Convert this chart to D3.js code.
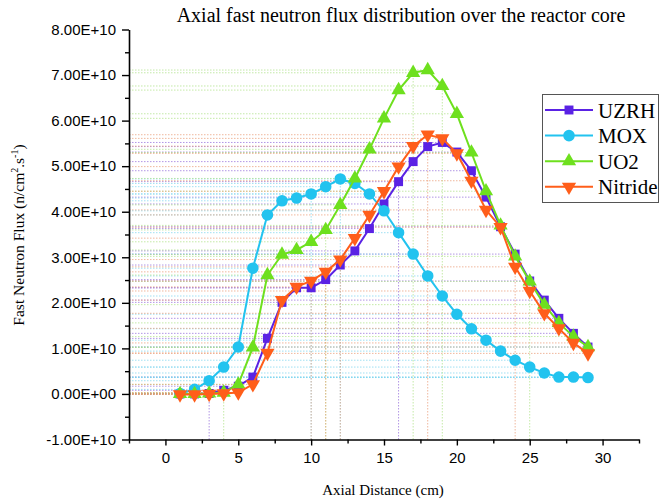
<!DOCTYPE html>
<html>
<head>
<meta charset="utf-8">
<script src="https://cdn.jsdelivr.net/npm/d3@7"></script>
<style>
  html, body { margin: 0; padding: 0; background: #fff; }
  svg { display: block; }
</style>
</head>
<body>
<svg id="chart" width="661" height="501"></svg>
<script>
// ---- data (flux in units of 1e10 n/cm^2.s^-1) ----
const axialPositions = [1,2,3,4,5,6,7,8,9,10,11,12,13,14,15,16,17,18,19,20,21,22,23,24,25,26,27,28,29];
const uzrhValues    = [0.00,0.00,0.01,0.08,0.17,0.37,1.22,2.01,2.33,2.33,2.51,2.83,3.14,3.63,4.17,4.66,5.10,5.43,5.52,5.31,4.90,4.32,3.67,3.07,2.48,2.06,1.66,1.33,1.03];
const moxValues     = [0.01,0.10,0.29,0.59,1.03,2.76,3.93,4.24,4.30,4.39,4.55,4.72,4.62,4.39,4.02,3.54,3.07,2.59,2.15,1.75,1.43,1.18,0.94,0.74,0.59,0.46,0.37,0.37,0.36];
const uo2Values     = [0.00,0.00,0.01,0.03,0.21,1.02,2.61,3.06,3.16,3.34,3.60,4.15,4.73,5.37,6.05,6.67,7.05,7.11,6.76,6.15,5.30,4.45,3.70,3.02,2.47,1.96,1.56,1.26,1.03];
const nitrideValues = [-0.01,-0.01,0.00,0.01,0.03,0.21,0.90,2.06,2.35,2.48,2.68,2.95,3.42,3.93,4.45,4.99,5.44,5.69,5.61,5.28,4.68,4.04,3.66,2.79,2.26,1.77,1.44,1.12,0.89];

const seriesNames = ["UZRH", "MOX", "UO2", "Nitride"];
// axial positions at which a vertical drop line is shown, per series
const uzrhVerticalDrops    = [3, 16];
const moxVerticalDrops     = [10, 12];
const uo2VerticalDrops     = [4, 11, 17, 19, 25];
const nitrideVerticalDrops = [10, 11, 12, 18, 24];

const xTickValues = [0, 5, 10, 15, 20, 25, 30];
const xTickLabels = ["0", "5", "10", "15", "20", "25", "30"];
const yTickValues = [-1, 0, 1, 2, 3, 4, 5, 6, 7, 8];
const yTickLabels = ["-1.00E+10","0.00E+00","1.00E+10","2.00E+10","3.00E+10","4.00E+10","5.00E+10","6.00E+10","7.00E+10","8.00E+10"];

const titleText = "Axial fast neutron flux distribution over the reactor core";
const xLabelText = "Axial Distance (cm)";

// ---- styling ----
const SERIF = "'Liberation Serif', 'Times New Roman', serif";
const SANS = "'Liberation Sans', Arial, sans-serif";
const colors = { UZRH: "#5a22e4", MOX: "#22c3ef", UO2: "#6ee01e", Nitride: "#ff5e1a" };
const dropColors = { UZRH: "#8a5fd8", MOX: "#6fd2ee", UO2: "#a6e07a", Nitride: "#e9936a" };
const symbols = { UZRH: "square", MOX: "circle", UO2: "up", Nitride: "down" };

const svg = d3.select("#chart");
const x = d3.scaleLinear().domain([-2.5, 32.5]).range([129, 639]);
const y = d3.scaleLinear().domain([-1, 8]).range([439.5, 29.5]);

const seriesData = [
  { name: "UZRH", values: uzrhValues, vdrops: uzrhVerticalDrops },
  { name: "MOX", values: moxValues, vdrops: moxVerticalDrops },
  { name: "UO2", values: uo2Values, vdrops: uo2VerticalDrops },
  { name: "Nitride", values: nitrideValues, vdrops: nitrideVerticalDrops }
].map(s => ({ ...s, points: axialPositions.map((p, i) => ({ x: p, y: s.values[i] })) }));

// ---- drop lines ----
const dropG = svg.append("g").attr("class", "droplines");
seriesData.forEach(s => {
  dropG.selectAll(null).data(s.points).enter().append("line")
    .attr("x1", x.range()[0]).attr("x2", d => x(d.x))
    .attr("y1", d => y(d.y)).attr("y2", d => y(d.y))
    .attr("stroke", dropColors[s.name]).attr("stroke-width", 1)
    .attr("stroke-dasharray", "1.5,1.5").attr("opacity", 0.65);
  dropG.selectAll(null).data(s.points.filter(d => s.vdrops.includes(d.x))).enter().append("line")
    .attr("x1", d => x(d.x)).attr("x2", d => x(d.x))
    .attr("y1", y.range()[0]).attr("y2", d => y(d.y))
    .attr("stroke", dropColors[s.name]).attr("stroke-width", 1)
    .attr("stroke-dasharray", "1.5,1.5").attr("opacity", 0.65);
});

// ---- axes ----
const xAxis = d3.axisBottom(x).tickValues(xTickValues).tickFormat((d, i) => xTickLabels[i]).tickSize(6).tickSizeOuter(0);
const xMinor = d3.axisBottom(x).tickValues(d3.range(-2.5, 33, 5)).tickFormat("").tickSize(4).tickSizeOuter(0);
const yAxis = d3.axisLeft(y).tickValues(yTickValues).tickFormat((d, i) => yTickLabels[i]).tickSize(7).tickSizeOuter(0);
const yMinor = d3.axisLeft(y).tickValues(d3.range(-0.5, 8, 1)).tickFormat("").tickSize(4).tickSizeOuter(0);

const gx = svg.append("g").attr("transform", `translate(0,${y.range()[0]})`).call(xAxis);
svg.append("g").attr("transform", `translate(0,${y.range()[0]})`).call(xMinor)
  .call(g => g.select(".domain").remove());
const gy = svg.append("g").attr("transform", `translate(${x.range()[0]},0)`).call(yAxis);
svg.append("g").attr("transform", `translate(${x.range()[0]},0)`).call(yMinor)
  .call(g => g.select(".domain").remove());

svg.selectAll(".domain").attr("stroke", "#000").attr("stroke-width", 1.6);
svg.selectAll(".tick line").attr("stroke", "#000").attr("stroke-width", 1.4);
gx.selectAll(".tick text").style("font-family", SANS)
  .attr("font-size", 15).attr("fill", "#000").attr("dy", "0.95em").attr("y", 9);
gy.selectAll(".tick text").style("font-family", SANS)
  .attr("font-size", 15).attr("fill", "#000").attr("x", -13);

// ---- series lines and markers ----
const line = d3.line().x(d => x(d.x)).y(d => y(d.y));
const symGen = {
  square: d3.symbol().type(d3.symbolSquare).size(80),
  circle: d3.symbol().type(d3.symbolCircle).size(105),
  up: d3.symbol().type(d3.symbolTriangle).size(88),
  down: d3.symbol().type(d3.symbolTriangle).size(88)
};
function markerTransform(name, px, py) {
  return symbols[name] === "down" ? `translate(${px},${py}) rotate(180)` : `translate(${px},${py})`;
}

seriesData.forEach(s => {
  const g = svg.append("g").attr("class", "series");
  g.append("path").datum(s.points).attr("d", line)
    .attr("fill", "none").attr("stroke", colors[s.name]).attr("stroke-width", 2);
  g.selectAll(null).data(s.points).enter().append("path")
    .attr("d", symGen[symbols[s.name]]())
    .attr("transform", d => markerTransform(s.name, x(d.x), y(d.y)))
    .attr("fill", colors[s.name]);
});

// ---- title and axis labels ----
svg.append("text").style("font-family", SERIF).attr("x", 401).attr("y", 22).attr("text-anchor", "middle")
  .attr("font-size", 20).attr("fill", "#000").text(titleText);

svg.append("text").style("font-family", SERIF).attr("x", 383).attr("y", 495).attr("text-anchor", "middle")
  .attr("font-size", 15).attr("fill", "#000").text(xLabelText);

const yl = svg.append("text").style("font-family", SERIF).attr("transform", "translate(24,235) rotate(-90)")
  .attr("text-anchor", "middle").attr("font-size", 15.5).attr("fill", "#000");
yl.append("tspan").text("Fast Neutron Flux (n/cm");
yl.append("tspan").attr("font-size", 10).attr("dy", -6).text("2");
yl.append("tspan").attr("dy", 6).text(".s");
yl.append("tspan").attr("font-size", 10).attr("dy", -6).text("-1");
yl.append("tspan").attr("dy", 6).text(")");

// ---- legend ----
const lg = svg.append("g").attr("class", "legend");
lg.append("rect").attr("x", 542.5).attr("y", 94.5).attr("width", 116).attr("height", 108)
  .attr("fill", "#fff").attr("stroke", "#555").attr("stroke-width", 1);
seriesNames.forEach((name, i) => {
  const ly = 110 + i * 25.6;
  lg.append("line").attr("x1", 545).attr("x2", 593).attr("y1", ly).attr("y2", ly)
    .attr("stroke", colors[name]).attr("stroke-width", 2);
  lg.append("path").attr("d", symGen[symbols[name]]())
    .attr("transform", markerTransform(name, 569, ly)).attr("fill", colors[name]);
  lg.append("text").style("font-family", SERIF).attr("x", 598).attr("y", ly + 7.5)
    .attr("font-size", 21).attr("fill", "#000").text(name);
});
</script>
</body>
</html>
